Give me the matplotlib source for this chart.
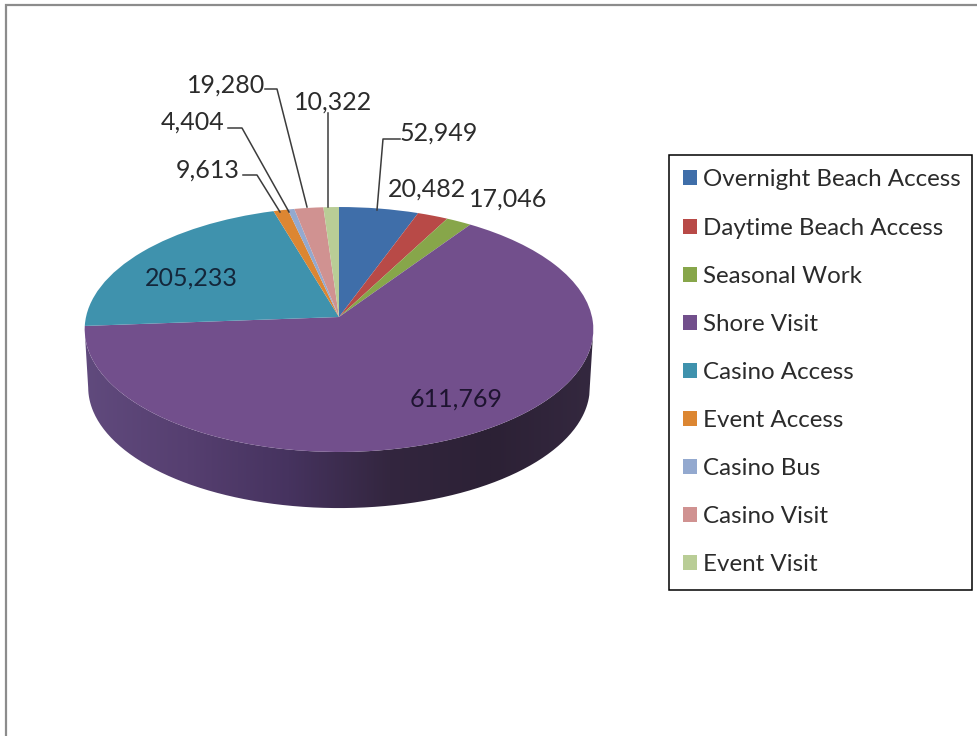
import numpy as np
import matplotlib
matplotlib.use("Agg")
import matplotlib.pyplot as plt
from matplotlib.path import Path
from matplotlib.patches import PathPatch, Rectangle
from matplotlib.transforms import Transform
from matplotlib.colors import LinearSegmentedColormap

plt.rcParams['font.family'] = ['Lato', 'DejaVu Sans']

categories = ["Overnight Beach Access", "Daytime Beach Access", "Seasonal Work",
              "Shore Visit", "Casino Access", "Event Access", "Casino Bus",
              "Casino Visit", "Event Visit"]
values = [52949, 20482, 17046, 611769, 205233, 9613, 4404, 19280, 10322]
colors = ["#3f6ea9", "#b84a47", "#87a64a", "#724f8c", "#3f92ad",
          "#dc8632", "#93a9cf", "#d09291", "#b9cd96"]


class TiltedDisc(Transform):
    """Perspective view of the unit-disc pie, in pixel coordinates (y down)."""
    input_dims = output_dims = 2

    def __init__(self, cx, cy, a, b, k):
        super().__init__()
        self.p = (cx, cy, a, b, k)

    def transform_non_affine(self, xy):
        cx, cy, a, b, k = self.p
        xy = np.asarray(xy, dtype=float)
        w = 1 + k * xy[:, 1]
        return np.column_stack([cx + a * xy[:, 0] / w, cy - b * xy[:, 1] / w])


top = TiltedDisc(339, 317, 253, 121.2, 0.102)
low = TiltedDisc(339, 375, 249.5, 119.5, 0.102)

fig = plt.figure(figsize=(9.77, 7.36), dpi=100)
ax = fig.add_axes([0, 0, 1, 1])

wedges, _ = ax.pie(values, colors=colors, startangle=90, counterclock=False,
                   wedgeprops=dict(linewidth=0))
for w in wedges:
    w.set_transform(top + ax.transData)
    w.set_zorder(3)

# side wall of the disc, with its horizontal shading
th = np.radians(np.linspace(186, 354, 240))
circle = np.column_stack([np.cos(th), np.sin(th)])
wall_pts = np.vstack([top.transform(circle), low.transform(circle)[::-1]])
shade = LinearSegmentedColormap.from_list(
    "wall", ["#604a7d", "#563f70", "#46335f", "#33263f", "#2c2135", "#34283f"])
img = ax.imshow(np.linspace(0, 1, 512)[None, :], cmap=shade,
                extent=(85, 593, 515, 320), aspect='auto', zorder=2)
clip = PathPatch(Path(wall_pts), transform=ax.transData, fc='none', ec='none')
ax.add_patch(clip)
img.set_clip_path(clip)

ax.set_aspect('auto')
ax.set_xlim(0, 977)
ax.set_ylim(736, 0)
ax.axis('off')

# chart frame
ax.plot([5.5, 5.5, 977], [736, 5, 5], color="#8c8c8c", lw=1.6, zorder=1,
        solid_joinstyle='miter')

# data labels
FS = 18
tc = "#2b2b2b"
label_text = ["52,949", "20,482", "17,046", "611,769", "205,233",
              "9,613", "4,404", "19,280", "10,322"]
label_x = [400, 388, 469, 410, 145, 176, 161, 187, 294]
label_y = [133, 189, 199, 399, 278, 170, 122, 85, 102]
label_c = [tc, tc, tc, "#1e1430", "#14263a", tc, tc, tc, tc]
for s, x, y, c in zip(label_text, label_x, label_y, label_c):
    ax.text(x, y, s, fontsize=FS, color=c, ha='left', va='center', zorder=5)

# leader lines
leaders = [
    ([400, 383, 377], [139, 139, 210]),
    ([328, 328], [113, 207]),
    ([265, 277, 307], [89, 89, 207]),
    ([228, 242, 289], [128, 128, 212]),
    ([243, 257, 280], [175, 175, 212]),
]
for xs, ys in leaders:
    ax.plot(xs, ys, color="#3c3c3c", lw=1.1, zorder=4)

# legend
ax.add_patch(Rectangle((669, 155), 303, 435, fc='white', ec='black', lw=1.1,
                       zorder=5))
leg = ax.legend(wedges, categories, loc='upper left',
                bbox_to_anchor=(683, 169.5), bbox_transform=ax.transData,
                borderaxespad=0, fontsize=17.4, frameon=False,
                labelcolor="#2b2b2b", handlelength=0.58, handleheight=0.58,
                handletextpad=0.25, labelspacing=1.12, borderpad=0)
leg.set_zorder(6)

fig.savefig("out.png", dpi=100)
